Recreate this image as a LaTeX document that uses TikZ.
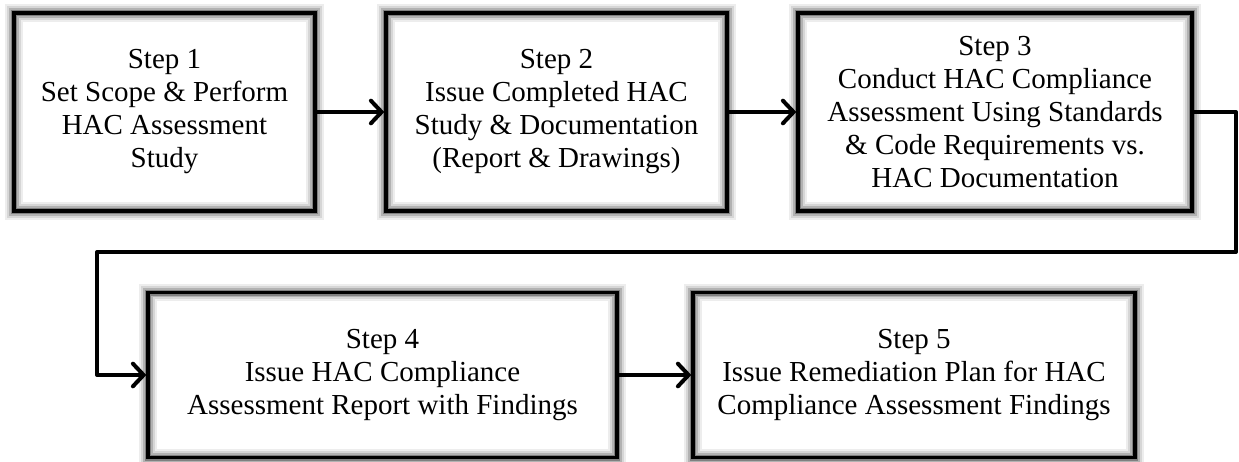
\documentclass[tikz,border=0pt]{standalone}
\usepackage{fontspec}
\setmainfont{Liberation Serif}
\usetikzlibrary{calc,positioning,arrows.meta}

\begin{document}
\begin{tikzpicture}[x=0.75pt, y=-0.75pt, arr/.style={line width=3pt, line cap=round, -{Straight Barb[length=8pt, width=17pt, line cap=round]}}]
\tikzstyle{blk}=[draw, line width=2.5pt, inner sep=0pt, align=center, font=\fontsize{21.75pt}{24.75pt}\selectfont, preaction={draw=black!7, line width=13pt}, preaction={draw=black!16, line width=10pt}, preaction={draw=black!30, line width=7pt}, preaction={draw=black!50, line width=4.5pt}]
\useasboundingbox (0,0) rectangle (1239,461);
\node[blk, minimum width=225.75pt, minimum height=148.5pt] (a) at (164.5,112) {Step 1\\Set Scope \& Perform\\HAC Assessment\\Study};
\node[blk, minimum width=255.75pt, minimum height=148.5pt] (b) at (556.5,112) {Step 2\\Issue Completed HAC\\Study \& Documentation\\(Report \& Drawings)};
\node[blk, minimum width=295.5pt, minimum height=148.5pt] (c) at (995,112) {Step 3\\Conduct HAC Compliance\\Assessment Using Standards\\\& Code Requirements vs.\\HAC Documentation};
\node[blk, minimum width=351.75pt, minimum height=123.75pt] (d) at (382.5,375) {Step 4\\Issue HAC Compliance\\Assessment Report with Findings};
\node[blk, minimum width=331.5pt, minimum height=123.75pt] (e) at (914,375) {Step 5\\Issue Remediation Plan for HAC\\Compliance Assessment Findings};
\coordinate (r) at (1236,112);
\coordinate (l) at (97,252);
\foreach \i/\j in {a/b,b/c,d/e}{\draw[arr] (\i) -- (\j);}
\draw[arr, line join=round] (c.east) -- (r) |- (l) |- (d.west);
\end{tikzpicture}
\end{document}
